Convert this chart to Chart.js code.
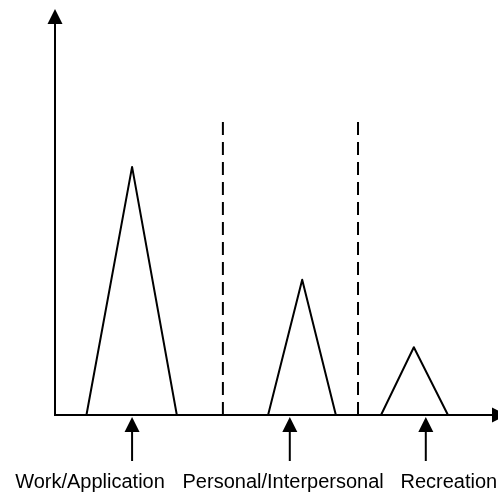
<!DOCTYPE html>
<html>
<head>
<meta charset="utf-8">
<script src="https://cdn.jsdelivr.net/npm/chart.js@4.4.0/dist/chart.umd.min.js"></script>
<style>
    html, body { margin: 0; padding: 0; background: #fff; }
    #wrap { width: 498px; height: 493px; }
</style>
</head>
<body>
<div id="wrap"><canvas id="chart"></canvas></div>
<script>
// areas of activity (the three peaks)
const categories = ['Work/Application', 'Personal/Interpersonal', 'Recreation'];
const peakStart = [7.1, 48.1, 73.6];
const peakCenter = [17.4, 55.8, 81.0];
const peakEnd = [27.5, 63.4, 88.7];
const peakHeight = [61.1, 33.3, 16.7];
// dashed separators between the areas
const dividerX = [37.9, 68.4];
const dividerTop = 72.2;
// arrows and labels under the x axis
const pointerX = [17.4, 53.0, 83.7];
const labelX = [7.9, 51.5, 88.9];

const datasets = [];
categories.forEach((cat, i) => {
    datasets.push({
        label: cat,
        data: [
            { x: peakStart[i], y: 0 },
            { x: peakCenter[i], y: peakHeight[i] },
            { x: peakEnd[i], y: 0 },
        ],
        borderColor: '#000',
        borderWidth: 2,
        borderJoinStyle: 'round',
        pointRadius: 0,
        showLine: true,
        tension: 0,
    });
});
dividerX.forEach((x, i) => {
    datasets.push({
        label: 'divider ' + (i + 1),
        data: [{ x: x, y: 0 }, { x: x, y: dividerTop }],
        borderColor: '#000',
        borderWidth: 2,
        borderDash: [13, 7],
        pointRadius: 0,
        showLine: true,
    });
});

// ejes con flechas, flechas de abajo y etiquetas
const diagramPlugin = {
    id: 'diagram',
    afterDatasetsDraw(chart) {
        const { ctx, scales } = chart;
        const xs = scales.x;
        const ys = scales.y;
        const x0 = xs.getPixelForValue(0);
        const y0 = ys.getPixelForValue(0);
        const yTop = ys.getPixelForValue(100);
        const xRight = xs.getPixelForValue(100);

        ctx.save();
        ctx.strokeStyle = '#000';
        ctx.fillStyle = '#000';
        ctx.lineWidth = 2;

        // axis lines
        ctx.beginPath();
        ctx.moveTo(x0, yTop + 10);
        ctx.lineTo(x0, y0);
        ctx.lineTo(xRight - 4, y0);
        ctx.stroke();

        // y arrow head
        ctx.beginPath();
        ctx.moveTo(x0, yTop);
        ctx.lineTo(x0 - 7.5, yTop + 15);
        ctx.lineTo(x0 + 7.5, yTop + 15);
        ctx.closePath();
        ctx.fill();

        // x arrow head (cut by the edge)
        ctx.beginPath();
        ctx.moveTo(xRight + 9, y0);
        ctx.lineTo(xRight - 6, y0 - 7.5);
        ctx.lineTo(xRight - 6, y0 + 7.5);
        ctx.closePath();
        ctx.fill();

        // pointers under the axis
        pointerX.forEach(v => {
            const px = xs.getPixelForValue(v);
            ctx.beginPath();
            ctx.moveTo(px, y0 + 2);
            ctx.lineTo(px - 7.5, y0 + 17);
            ctx.lineTo(px + 7.5, y0 + 17);
            ctx.closePath();
            ctx.fill();
            ctx.beginPath();
            ctx.moveTo(px, y0 + 16);
            ctx.lineTo(px, y0 + 46);
            ctx.stroke();
        });

        // labels
        ctx.font = '20px "Liberation Sans", Arial, sans-serif';
        ctx.textAlign = 'center';
        ctx.textBaseline = 'alphabetic';
        categories.forEach((cat, i) => {
            ctx.fillText(cat, xs.getPixelForValue(labelX[i]), y0 + 73);
        });
        ctx.restore();
    }
};

new Chart(document.getElementById('chart').getContext('2d'), {
    type: 'scatter',
    data: { datasets: datasets },
    options: {
        responsive: true,
        maintainAspectRatio: false,
        animation: false,
        layout: { padding: { left: 55, right: 0, top: 9, bottom: 78 } },
        scales: {
            x: {
                type: 'linear', min: 0, max: 100,
                ticks: { display: false },
                grid: { display: false, drawTicks: false },
                border: { display: false },
            },
            y: {
                type: 'linear', min: 0, max: 100,
                ticks: { display: false },
                grid: { display: false, drawTicks: false },
                border: { display: false },
            },
        },
        plugins: {
            legend: { display: false },
            tooltip: { enabled: false },
        },
    },
    plugins: [diagramPlugin],
});
</script>
</body>
</html>
